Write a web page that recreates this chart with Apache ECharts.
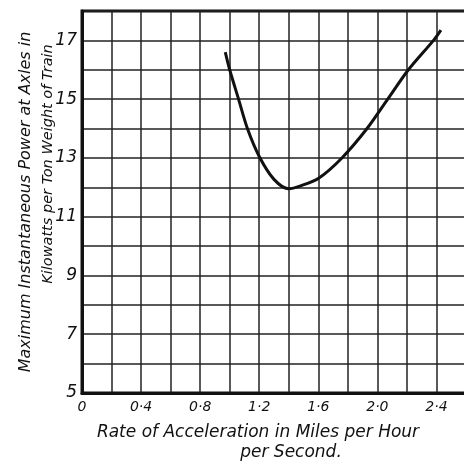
<!DOCTYPE html>
<html>
<head>
<meta charset="utf-8">
<script src="https://cdn.jsdelivr.net/npm/echarts@6/dist/echarts.min.js"></script>
<style>
  html, body { margin: 0; padding: 0; background: #fff; }
  #chart { width: 464px; height: 462px; }
</style>
</head>
<body>
<div id="chart"></div>
<script>
// acceleration (mph per second) vs max instantaneous power (kW per ton)
const accel = [0.97, 1.0, 1.06, 1.12, 1.2, 1.3, 1.4, 1.48, 1.6, 1.76, 1.93, 2.07, 2.21, 2.38, 2.43]
const power = [16.6, 16.0, 15.0, 14.0, 13.05, 12.27, 11.95, 12.05, 12.3, 13.0, 14.0, 15.0, 16.0, 17.0, 17.35]

const xTickLabels = ['0', '0·4', '0·8', '1·2', '1·6', '2·0', '2·4']
const yTickLabels = ['5', '7', '9', '11', '13', '15', '17']

const xTitle = 'Rate of Acceleration in Miles per Hour'
const xTitle2 = 'per Second.'
const yTitle = 'Maximum Instantaneous Power at Axles in'
const yTitle2 = 'Kilowatts per Ton Weight of Train'

const font = '"DejaVu Sans", sans-serif'

const chart = echarts.init(document.getElementById('chart'))

chart.setOption({
    backgroundColor: '#fff',
    animation: false,
    grid: {
        left: 82, top: 11, right: -2, bottom: 69,
        outerBoundsMode: 'none',
        containLabel: false,
        show: true, borderColor: '#111', borderWidth: 3
    },
    xAxis: {
        type: 'value',
        min: 0, max: 2.6, interval: 0.2,
        axisLine: { show: true, lineStyle: { color: '#111', width: 3 } },
        axisTick: { show: false },
        splitLine: { show: true, lineStyle: { color: '#222', width: 1.5 } },
        axisLabel: {
            margin: 7,
            color: '#111',
            fontFamily: font, fontStyle: 'italic', fontSize: 14,
            formatter: v => {
                const k = Math.round(v * 10)
                return k % 4 === 0 && xTickLabels[k / 4] !== undefined ? xTickLabels[k / 4] : ''
            }
        },
        name: '{a|' + xTitle + '}\n{b|' + xTitle2 + '}',
        nameLocation: 'middle',
        nameGap: 30,
        nameTextStyle: {
            rich: {
                a: { fontFamily: font, fontStyle: 'italic', fontSize: 17, color: '#111', lineHeight: 20, padding: [0, 32, 0, 0] },
                b: { fontFamily: font, fontStyle: 'italic', fontSize: 17, color: '#111', lineHeight: 20, padding: [0, 32, 0, 66] }
            }
        }
    },
    yAxis: {
        type: 'value',
        min: 5, max: 18, interval: 1,
        axisLine: { show: true, lineStyle: { color: '#111', width: 3 } },
        axisTick: { show: false },
        splitLine: { show: true, lineStyle: { color: '#222', width: 1.5 } },
        axisLabel: {
            margin: 5,
            color: '#111',
            fontFamily: font, fontStyle: 'italic', fontSize: 17,
            formatter: v => {
                const k = Math.round(v)
                return (k - 5) % 2 === 0 && yTickLabels[(k - 5) / 2] !== undefined ? yTickLabels[(k - 5) / 2] : ''
            }
        },
        name: '{a|' + yTitle + '}\n{b|' + yTitle2 + '}',
        nameLocation: 'middle',
        nameRotate: 90,
        nameMoveOverlap: false,
        nameGap: 23,
        nameTextStyle: {
            rich: {
                a: { fontFamily: font, fontStyle: 'italic', fontSize: 16, color: '#111', lineHeight: 22 },
                b: { fontFamily: font, fontStyle: 'italic', fontSize: 14.5, color: '#111', lineHeight: 22, padding: [0, 0, 0, 76] }
            }
        }
    },
    series: [{
        type: 'line',
        data: accel.map((x, i) => [x, power[i]]),
        smooth: 0.3,
        symbol: 'none',
        lineStyle: { color: '#111', width: 3 }
    }]
})
</script>
</body>
</html>
